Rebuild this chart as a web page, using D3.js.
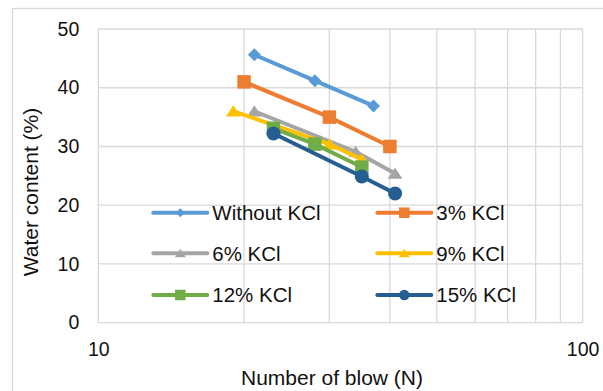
<!DOCTYPE html>
<html>
<head>
<meta charset="utf-8">
<script src="https://cdn.jsdelivr.net/npm/d3@7"></script>
<style>
    body { margin: 0; background: #fff; }
    text { font-family: "Liberation Sans", Arial, sans-serif; fill: #111; }
</style>
</head>
<body>
<div id="chart"></div>
<script>
// Data
const seriesNames = ["Without KCl", "3% KCl", "6% KCl", "9% KCl", "12% KCl", "15% KCl"]
const blowsWithout = [21, 28, 37]
const waterWithout = [45.6, 41.2, 36.9]
const blows3 = [20, 30, 40]
const water3 = [41.0, 35.0, 30.0]
const blows6 = [21, 34, 41]
const water6 = [36.0, 29.1, 25.4]
const blows9 = [19, 30, 35]
const water9 = [36.0, 30.4, 27.8]
const blows12 = [23, 28, 35]
const water12 = [33.1, 30.4, 26.5]
const blows15 = [23, 35, 41]
const water15 = [32.2, 24.9, 22.0]
const yTicks = [0, 10, 20, 30, 40, 50]
const xLabelTicks = [10, 100]
const xGridTicks = [10, 20, 30, 40, 50, 60, 70, 80, 90, 100]

const colors = ["#5B9BD5", "#ED7D31", "#A5A5A5", "#FFC000", "#70AD47", "#255E91"]
const shapes = ["diamond", "square", "triangle", "triangle", "square", "circle"]

const series = [
    [blowsWithout, waterWithout],
    [blows3, water3],
    [blows6, water6],
    [blows9, water9],
    [blows12, water12],
    [blows15, water15]
].map((s, i) => ({
    name: seriesNames[i],
    color: colors[i],
    shape: shapes[i],
    values: s[0].map((n, j) => ({ n, w: s[1][j] }))
}))

const width = 603
const height = 391
const margins = { top: 29, right: 20.4, bottom: 68.3, left: 98.3 }
const boundedWidth = width - margins.left - margins.right
const boundedHeight = height - margins.top - margins.bottom

const svg = d3.select("#chart").append("svg")
    .attr("width", width)
    .attr("height", height)

// outer chart border
svg.append("rect")
    .attr("x", 12.5).attr("y", 8.5)
    .attr("width", 620).attr("height", 420)
    .attr("fill", "none")
    .attr("stroke", "#d9d9d9")
    .attr("stroke-width", 1.3)

const bounds = svg.append("g")
    .attr("transform", `translate(${margins.left},${margins.top})`)

const xScale = d3.scaleLog().domain([10, 100]).range([0, boundedWidth])
const yScale = d3.scaleLinear().domain([0, 50]).range([boundedHeight, 0])

// gridlines
bounds.append("g")
    .selectAll("line.h")
    .data(yTicks)
    .join("line")
    .attr("x1", 0).attr("x2", boundedWidth)
    .attr("y1", d => yScale(d)).attr("y2", d => yScale(d))
    .attr("stroke", "#d9d9d9").attr("stroke-width", 1.3)

bounds.append("g")
    .selectAll("line.v")
    .data(xGridTicks)
    .join("line")
    .attr("x1", d => xScale(d)).attr("x2", d => xScale(d))
    .attr("y1", 0).attr("y2", boundedHeight)
    .attr("stroke", "#d9d9d9").attr("stroke-width", 1.3)

// axes (labels only)
const yAxis = bounds.append("g")
    .call(d3.axisLeft(yScale).tickValues(yTicks).tickSize(0).tickPadding(19))
yAxis.select(".domain").remove()
yAxis.selectAll("text").attr("font-size", "19.5px").attr("fill", "#111")
    .style("font-family", "Liberation Sans, Arial, sans-serif")

const xAxis = bounds.append("g")
    .attr("transform", `translate(0,${boundedHeight})`)
    .call(d3.axisBottom(xScale).tickValues(xLabelTicks).tickFormat(d3.format("d")).tickSize(0).tickPadding(19))
xAxis.select(".domain").remove()
xAxis.selectAll("text").attr("font-size", "19.5px").attr("fill", "#111")
    .style("font-family", "Liberation Sans, Arial, sans-serif")

// axis titles
svg.append("text")
    .attr("transform", `translate(38,192) rotate(-90)`)
    .attr("text-anchor", "middle")
    .attr("font-size", "21px")
    .text("Water content (%)")

svg.append("text")
    .attr("x", 332).attr("y", 385)
    .attr("text-anchor", "middle")
    .attr("font-size", "21px")
    .text("Number of blow (N)")

// marker path builder
function markerPath(shape, s) {
    const h = s / 2
    if (shape === "diamond") return `M0,${-h}L${h},0L0,${h}L${-h},0Z`
    if (shape === "square") return `M${-h},${-h}H${h}V${h}H${-h}Z`
    if (shape === "triangle") return `M0,${-h * 0.85}L${h * 1.05},${h * 0.75}L${-h * 1.05},${h * 0.75}Z`
    return d3.arc()({ innerRadius: 0, outerRadius: h, startAngle: 0, endAngle: 2 * Math.PI })
}
const markerSize = { diamond: 13, square: 13.5, triangle: 14, circle: 14 }
const legendMarkerSize = { diamond: 9, square: 10.5, triangle: 10.5, circle: 10.5 }

const line = d3.line()
    .x(d => xScale(d.n))
    .y(d => yScale(d.w))

const seriesGroups = bounds.selectAll(".series")
    .data(series)
    .join("g")
    .attr("class", "series")

seriesGroups.append("path")
    .attr("d", d => line(d.values))
    .attr("fill", "none")
    .attr("stroke", d => d.color)
    .attr("stroke-width", 4)
    .attr("stroke-linejoin", "round")

seriesGroups.each(function (s) {
    d3.select(this).selectAll("path.marker")
        .data(s.values)
        .join("path")
        .attr("class", "marker")
        .attr("transform", d => `translate(${xScale(d.n)},${yScale(d.w)})`)
        .attr("d", markerPath(s.shape, markerSize[s.shape]))
        .attr("fill", s.color)
})

// legend
const legendCols = [153.3, 377.3]
const legendRows = [212.7, 253.3, 295]
const legend = svg.selectAll(".legendItem")
    .data(series)
    .join("g")
    .attr("class", "legendItem")
    .attr("transform", (d, i) => `translate(${legendCols[i % 2]},${legendRows[Math.floor(i / 2)]})`)

legend.append("line")
    .attr("x1", 0).attr("x2", 54)
    .attr("stroke", d => d.color)
    .attr("stroke-width", 4)
    .attr("stroke-linecap", "round")

legend.append("path")
    .attr("transform", "translate(27,0)")
    .attr("d", d => markerPath(d.shape, legendMarkerSize[d.shape]))
    .attr("fill", d => d.color)

legend.append("text")
    .attr("x", 59)
    .attr("dy", "0.36em")
    .attr("font-size", "20.5px")
    .text(d => d.name)
</script>
</body>
</html>
